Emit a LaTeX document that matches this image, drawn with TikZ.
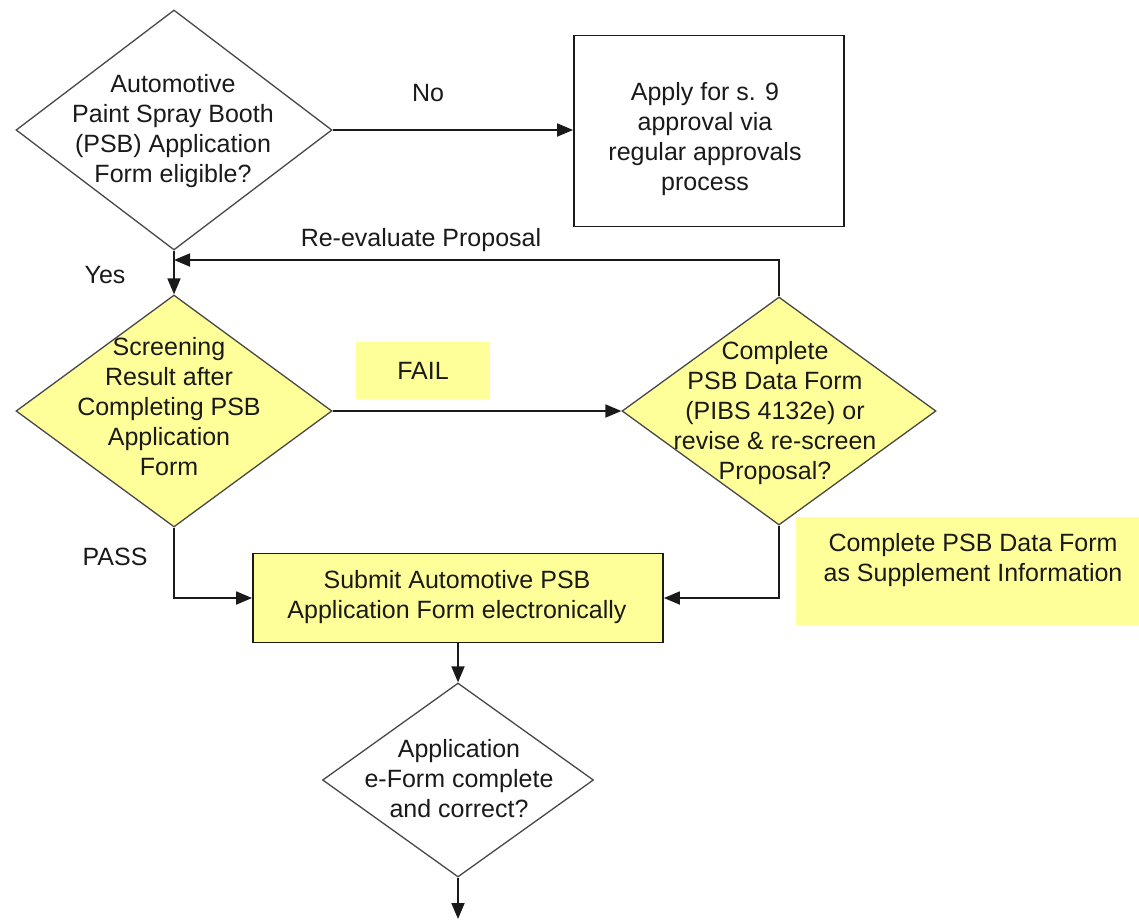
\documentclass[tikz,border=0pt]{standalone}
\usepackage{fontspec}
\setmainfont{Liberation Sans}
\usetikzlibrary{shapes.geometric,arrows.meta}
\definecolor{pale}{HTML}{FFFF99}
\definecolor{ink}{HTML}{1A1A1A}
\begin{document}
\begin{tikzpicture}[x=1pt,y=-1pt,
  txt/.style={font=\fontsize{25}{30}\selectfont, align=center, inner sep=0pt, text=ink},
  dia/.style={diamond, draw=ink!80, line width=1.3pt, inner sep=0pt, minimum width=#1},
  boxw/.style={rectangle, draw=ink, line width=1.8pt, fill=white, inner sep=0pt},
  boxy/.style={rectangle, draw=ink, line width=1.8pt, fill=pale, inner sep=0pt},
  patch/.style={rectangle, fill=pale, inner sep=0pt},
  arr/.style={draw=ink, line width=1.8pt, -{Triangle[length=16pt,width=13pt]}},
  lbl/.style={font=\fontsize{25}{30}\selectfont, inner sep=0pt, text=ink}
]
\useasboundingbox (0,0) rectangle (1139,919);
\fill[white] (0,0) rectangle (1139,919);

% decision 1
\node[dia=316pt, minimum height=240pt, fill=white] (d1) at (174,130) {};
\node[txt] (d1t) at (173,131) {Automotive\\Paint Spray Booth\\(PSB) Application\\Form eligible?};

% box regular approvals
\node[boxw, minimum width=270pt, minimum height=191pt] (b1) at (709,131) {};
\node[txt] (b1t) at (705,139) {Apply for s. 9\\approval via\\regular approvals\\process};

% decision 2
\node[dia=316pt, minimum height=232pt, fill=pale] (d2) at (174,411) {};
\node[txt] (d2t) at (169,407) {Screening\\Result after\\Completing PSB\\Application\\Form};

% decision 3
\node[dia=314pt, minimum height=228pt, fill=pale] (d3) at (779,411) {};
\node[txt] (d3t) at (775,413) {Complete\\PSB Data Form\\(PIBS 4132e) or\\revise \& re-screen\\Proposal?};

% FAIL patch
\node[patch, minimum width=134pt, minimum height=57pt] (fail) at (423,370) {};
\node[lbl] (failt) at (423,371) {FAIL};

% note patch
\node[patch, minimum width=343pt, minimum height=108pt] (note) at (967.5,571) {};
\node[txt] (notet) at (973,560) {Complete PSB Data Form\\as Supplement Information};

% submit box
\node[boxy, minimum width=410pt, minimum height=89pt] (sub) at (458,598) {};
\node[txt] (subt) at (457,597) {Submit Automotive PSB\\Application Form electronically};

% decision 4
\node[dia=271pt, minimum height=194pt, fill=white] (d4) at (458,780) {};
\node[txt] (d4t) at (459,779) {Application\\e-Form complete\\and correct?};

% labels
\node[lbl] (no) at (428,93) {No};
\node[lbl] (yes) at (105,275) {Yes};
\node[lbl] (pass) at (115,557) {PASS};
\node[lbl] (reev) at (421,240) {Re-evaluate Proposal};

\coordinate (rejoin) at (174,260);
\coordinate (fin) at (458,919);

% connectors
\draw[arr] (d1.east) -- (b1.west |- d1.east);
\draw[arr] (d1.south) -- (d2.north);
\draw[arr] (d3.north) |- (rejoin);
\draw[arr] (d2.east) -- (d3.west);
\draw[arr] (d2.south) |- (sub.west);
\draw[arr] (d3.south) |- (sub.east);
\draw[arr] (sub.south) -- (d4.north);
\draw[arr] (d4.south) -- (fin);
\end{tikzpicture}
\end{document}
